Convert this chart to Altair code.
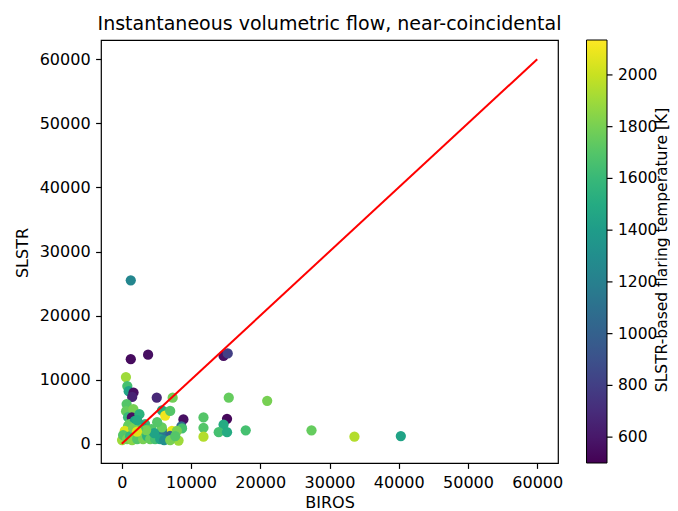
import altair as alt
import pandas as pd

FONT = "DejaVu Sans"

# BIROS volumetric flow, SLSTR volumetric flow, SLSTR-based flaring temperature [K]
biros = [
    1300, 1300, 3800, 14700, 15300,
    600, 800, 1000, 1700, 1500,
    5050, 7350, 15450, 21000,
    15200, 8900, 11800, 8600, 8700, 11800, 14700, 14000, 15200, 17900,
    11800, 8200, 27400, 33600, 40300,
    700, 620, 910, 5800, 6460,
    1680, 1450, 1100, 720, 480, 2550, 3370, 4340, 5300, 6020,
    6270, 6990, 7240, 6990, 7960, 5790, 2650, 1930, 1880, 910,
    430, 2840, 4290, 40, 190, 770, 1200, 1490, 2220, 3080,
    3660, 4100, 4820, 5550, 4680, 3520, 2360, 1640, 2220, 6120,
    6990, 7720, 5110, 2200,
]
slstr = [
    25500, 13200, 13900, 13700, 14100,
    10400, 9000, 8200, 8000, 7300,
    7200, 7200, 7200, 6700,
    3900, 3800, 4100, 2700, 2400, 2500, 3000, 1800, 1800, 2100,
    1100, 500, 2100, 1100, 1200,
    6200, 5080, 4150, 5200, 4880,
    5390, 4100, 3060, 1770, 1040, 4610, 3060, 2020, 1510, 1770,
    4400, 5120, 2020, 1240, 2020, 2550, 1240, 1510, 3570, 2800,
    2020, 2800, 2280, 570, 1350, 730, 1200, 570, 730, 730,
    1200, 730, 730, 730, 1660, 2130, 2440, 2440, 3680, 570,
    570, 1200, 3370, 1900,
]
temperature = [
    1250, 540, 560, 560, 800,
    1900, 1650, 1450, 560, 650,
    680, 1780, 1750, 1800,
    530, 560, 1700, 1050, 1650, 1700, 1500, 1650, 1500, 1650,
    1950, 1900, 1750, 1950, 1450,
    1700, 1750, 1600, 1500, 1550,
    1800, 560, 1750, 2000, 1950, 1550, 1600, 1700, 1600, 1150,
    2100, 1700, 2080, 1000, 1800, 1750, 1650, 1850, 1450, 1750,
    2050, 1450, 1700, 1900, 1700, 1800, 1600, 1850, 1700, 1800,
    1550, 1750, 1650, 1450, 1450, 1800, 1700, 1800, 1500, 1300,
    1800, 1700, 1700, 2050,
]

line_x = [0, 60000]
line_y = [0, 60000]
cbar_ticks = [600, 800, 1000, 1200, 1400, 1600, 1800, 2000]
axis_ticks = [0, 10000, 20000, 30000, 40000, 50000, 60000]
title_text = "Instantaneous volumetric flow, near-coincidental"
cbar_title = "SLSTR-based flaring temperature [K]"

df = pd.DataFrame({"BIROS": biros, "SLSTR": slstr, "T": temperature})
line_df = pd.DataFrame({"BIROS": line_x, "SLSTR": line_y})
tick_df = pd.DataFrame({"t": cbar_ticks})
label_df = pd.DataFrame({"label": [cbar_title]})
title_df = pd.DataFrame({"label": [title_text]})

FS = 16
W, H = 457, 423
xscale = alt.Scale(domain=[-3000, 63000], nice=False, zero=False)
yscale = alt.Scale(domain=[-3000, 63000], nice=False, zero=False)
tdomain = [500, 2135]

points = alt.Chart(df).mark_circle(size=105, opacity=1).encode(
    x=alt.X("BIROS:Q", scale=xscale,
            axis=alt.Axis(values=axis_ticks, title="BIROS", format="d",
                          labelPadding=6.5, titleX=228.5, titleY=44,
                          titleBaseline="alphabetic", titleAlign="center")),
    y=alt.Y("SLSTR:Q", scale=yscale,
            axis=alt.Axis(values=axis_ticks, title="SLSTR", format="d",
                          labelPadding=5.5, titleX=-73.5, titleY=212.5,
                          titleAngle=270, titleBaseline="alphabetic",
                          titleAlign="center")),
    color=alt.Color("T:Q",
                    scale=alt.Scale(scheme="viridis", domain=tdomain, nice=False, zero=False),
                    legend=alt.Legend(orient="none", legendX=485.5, legendY=0,
                                      direction="vertical", gradientLength=H,
                                      gradientThickness=20.5, title=None,
                                      values=cbar_ticks, format="d", labelFont=FONT,
                                      labelFontSize=15.5, labelColor="black",
                                      labelOffset=11, labelOverlap=False,
                                      gradientStrokeColor="black",
                                      gradientStrokeWidth=1, padding=0)),
)

line = alt.Chart(line_df).mark_line(color="red", strokeWidth=2).encode(
    x=alt.X("BIROS:Q", scale=xscale),
    y=alt.Y("SLSTR:Q", scale=yscale),
)

cticks = alt.Chart(tick_df).mark_rule(color="black", strokeWidth=1.2).encode(
    x=alt.value(506), x2=alt.value(511.5),
    y=alt.Y("t:Q", scale=alt.Scale(domain=tdomain, nice=False, zero=False), axis=None),
)

ctitle = alt.Chart(label_df).mark_text(
    angle=270, font=FONT, fontSize=15.5, align="center",
    baseline="alphabetic", color="black",
).encode(x=alt.value(566), y=alt.value(210), text="label:N")

title = alt.Chart(title_df).mark_text(
    font=FONT, fontSize=19, align="center", baseline="alphabetic", color="black",
).encode(x=alt.value(228.5), y=alt.value(-10), text="label:N")

chart = alt.layer(
    alt.layer(points, line), cticks, ctitle, title
).resolve_scale(y="independent").properties(
    width=W, height=H,
    autosize=alt.AutoSizeParams(type="none"),
    padding={"left": 93, "top": 32, "right": 112, "bottom": 48},
).configure(font=FONT, background="white").configure_view(
    stroke="black", strokeWidth=1.2
).configure_axis(
    grid=False, domain=False, ticks=True, tickColor="black", tickSize=5.4,
    tickWidth=1.2, labelFont=FONT, labelFontSize=FS, labelColor="black",
    titleFont=FONT, titleFontSize=FS, titleFontWeight="normal",
    titleColor="black",
)

chart.save("out.html", embed_options={"renderer": "svg", "actions": False})
